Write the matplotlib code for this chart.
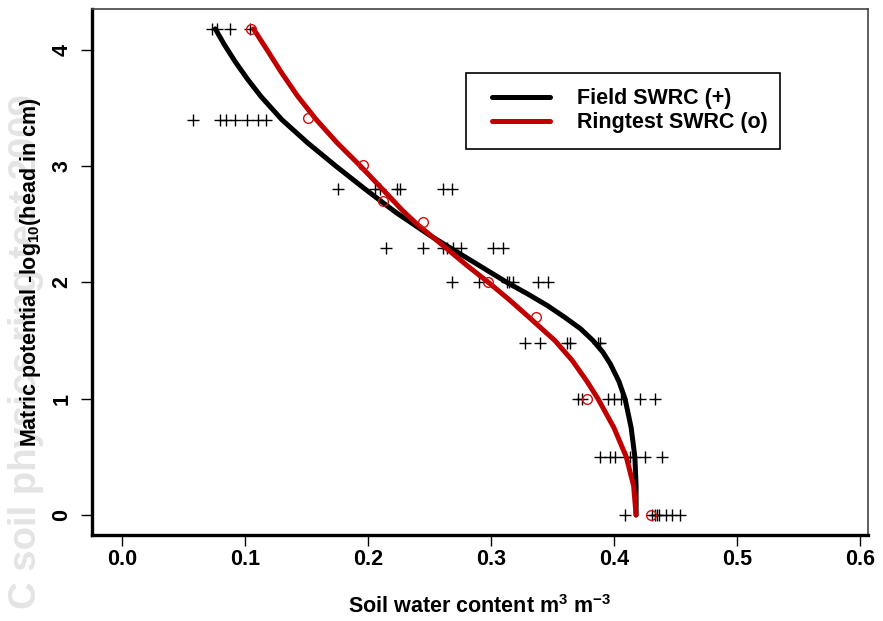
import numpy as np
import matplotlib
matplotlib.use("Agg")
import matplotlib.pyplot as plt
from matplotlib.legend_handler import HandlerLine2D

plt.rcParams['font.family'] = ['Liberation Sans', 'DejaVu Sans']
plt.rcParams['font.weight'] = 'bold'
plt.rcParams['axes.labelweight'] = 'bold'
plt.rcParams['mathtext.fontset'] = 'custom'
plt.rcParams['mathtext.rm'] = 'Liberation Sans:bold'
plt.rcParams['mathtext.it'] = 'Liberation Sans:bold'
plt.rcParams['mathtext.bf'] = 'Liberation Sans:bold'
plt.rcParams['mathtext.default'] = 'bf'

# field measurements (+): water content and matric potential (pF)
field_theta = [0.073, 0.077, 0.088, 0.104,
               0.058, 0.080, 0.085, 0.092, 0.102, 0.111, 0.117,
               0.176, 0.206, 0.210, 0.224, 0.226, 0.261, 0.268,
               0.215, 0.245, 0.261, 0.264, 0.269, 0.276, 0.302, 0.310,
               0.268, 0.290, 0.313, 0.315, 0.318, 0.338, 0.346,
               0.328, 0.340, 0.362, 0.364, 0.387, 0.389,
               0.371, 0.374, 0.395, 0.400, 0.406, 0.421, 0.433,
               0.389, 0.397, 0.401, 0.410, 0.413, 0.416, 0.425, 0.439,
               0.409, 0.431, 0.433, 0.435, 0.437, 0.442, 0.447, 0.454]
field_pf = [4.18] * 4 + [3.40] * 7 + [2.80] * 7 + [2.30] * 8 + [2.00] * 7 \
    + [1.48] * 6 + [1.00] * 7 + [0.50] * 8 + [0.00] * 8

# ringtest measurements (o)
ring_theta = [0.105, 0.151, 0.196, 0.212, 0.245, 0.298, 0.337, 0.378, 0.430]
ring_pf = [4.18, 3.41, 3.01, 2.70, 2.52, 2.00, 1.70, 1.00, 0.00]

# fitted curves
field_curve_pf = [4.18, 4.05, 3.9, 3.75, 3.6, 3.4, 3.2, 3.0, 2.8, 2.6, 2.4,
                  2.2, 2.0, 1.9, 1.8, 1.7, 1.6, 1.5, 1.4, 1.3, 1.15, 1.0,
                  0.75, 0.5, 0.25, 0.0]
field_curve_theta = [0.076, 0.083, 0.092, 0.102, 0.113, 0.130, 0.151, 0.174,
                     0.198, 0.223, 0.251, 0.282, 0.313, 0.330, 0.346, 0.360,
                     0.373, 0.383, 0.391, 0.397, 0.404, 0.409, 0.414, 0.417,
                     0.418, 0.418]
ring_curve_pf = [4.18, 4.0, 3.8, 3.6, 3.4, 3.2, 3.0, 2.8, 2.62, 2.5, 2.3, 2.15,
                 2.0, 1.85, 1.7, 1.5, 1.33, 1.15, 1.0, 0.75, 0.5, 0.25, 0.0]
ring_curve_theta = [0.107, 0.118, 0.130, 0.143, 0.158, 0.175, 0.194, 0.212,
                    0.228, 0.240, 0.263, 0.280, 0.298, 0.315, 0.331, 0.352,
                    0.366, 0.378, 0.387, 0.400, 0.410, 0.416, 0.418]

x_ticks = [0.0, 0.1, 0.2, 0.3, 0.4, 0.5, 0.6]
y_ticks = [0, 1, 2, 3, 4]

fs = 15.5
fig = plt.figure(figsize=(8.83, 6.21), dpi=100)
ax = fig.add_axes([0.104, 0.1385, 0.879, 0.847])

# watermark behind the y label
fig.text(0.030, 0.02, "C soil physics ring test 2009", rotation=90,
         fontsize=27.5, color='#e4e4e4', ha='center', va='bottom', zorder=-1)

ax.plot(field_theta, field_pf, linestyle='none', marker='+', color='black',
        markersize=8, markeredgewidth=1.0, zorder=2)
field_line, = ax.plot(field_curve_theta, field_curve_pf, color='black',
                      linewidth=3.6, solid_capstyle='round',
                      solid_joinstyle='round', label='Field SWRC (+)', zorder=3)
ring_line, = ax.plot(ring_curve_theta, ring_curve_pf, color='#c00000',
                     linewidth=3.6, solid_capstyle='round',
                     solid_joinstyle='round', label='Ringtest SWRC (o)', zorder=4)
ax.plot(ring_theta, ring_pf, linestyle='none', marker='o', markerfacecolor='none',
        markeredgecolor='#d01010', markersize=7, markeredgewidth=1.0, zorder=5)

ax.set_xlim(-0.0244, 0.6065)
ax.set_ylim(-0.172, 4.351)
ax.set_xticks(x_ticks)
ax.set_xticklabels(["%.1f" % v for v in x_ticks])
ax.set_yticks(y_ticks)
ax.set_yticklabels([str(v) for v in y_ticks], rotation=90, va='center')
ax.tick_params(axis='both', direction='out', length=8, width=1.0,
               labelsize=fs)
ax.tick_params(axis='x', pad=2)
ax.tick_params(axis='y', pad=6)

for side in ['left', 'bottom']:
    ax.spines[side].set_linewidth(2.4)
    ax.spines[side].set_color('black')
for side in ['top', 'right']:
    ax.spines[side].set_linewidth(1.2)
    ax.spines[side].set_color('#444444')

ax.set_xlabel("Soil water content m$^3$ m$^{-3}$", fontsize=fs,
              fontweight='bold', labelpad=18)
ax.set_ylabel("Matric potential -log$_{10}$(head in cm)", fontsize=fs,
              fontweight='bold', labelpad=6)

handler = HandlerLine2D(xpad=0.5)
leg = ax.legend(handles=[field_line, ring_line],
                handler_map={field_line: handler, ring_line: handler},
                loc='upper left', bbox_to_anchor=(0.482, 0.736, 0.405, 0.142),
                mode='expand', borderaxespad=0, fontsize=fs, frameon=True,
                fancybox=False, edgecolor='black', framealpha=1,
                handlelength=3.2, handletextpad=1.25, labelspacing=0.15,
                borderpad=0.7)
leg.get_frame().set_linewidth(1.2)

fig.savefig("out.png", dpi=100)
